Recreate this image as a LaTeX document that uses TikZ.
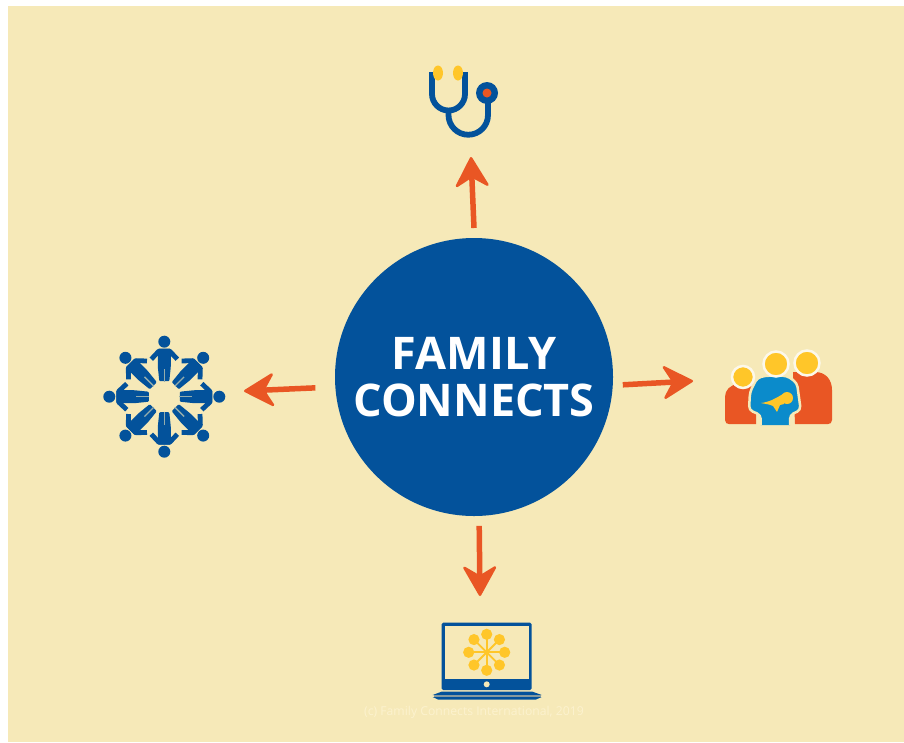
\documentclass[tikz,border=0pt]{standalone}
\usepackage{fontspec}
\setmainfont{Open Sans}
\usetikzlibrary{arrows.meta}
\pgfdeclarelayer{edgelayer}
\pgfdeclarelayer{nodelayer}
\pgfsetlayers{edgelayer,nodelayer,main}
\definecolor{cream}{HTML}{F6E9B8}
\definecolor{fcblue}{HTML}{03529B}
\definecolor{skyblue}{HTML}{0B8BCB}
\definecolor{fcorange}{HTML}{E95624}
\definecolor{fcyellow}{HTML}{FFC629}
\definecolor{faint}{HTML}{FCF2CE}
\tikzstyle{hubnode}=[circle, fill=fcblue, text=white, align=center, outer sep=10pt, minimum size=278pt, inner sep=0pt, font=\fontsize{45}{46.7}\selectfont\bfseries]
\tikzstyle{iconnode}=[rectangle, inner sep=0pt, outer sep=0pt]
\tikzstyle{arrow}=[draw=fcorange, line width=5.5pt, -{Stealth[length=33pt,width=37pt,inset=11pt,line width=2.5pt,round]}]
\tikzstyle{blueline}=[draw=fcblue, line width=5.8pt, fill=none]
\tikzstyle{head}=[fill=fcyellow, draw=white!70!cream, line width=2.5pt]
\begin{document}
\begin{tikzpicture}[x=1pt, y=-1pt]
            \useasboundingbox (0, 0) rectangle (904, 742);
            \begin{pgfonlayer}{edgelayer}
                \fill [cream] (8, 6) rectangle (904, 742);
            \end{pgfonlayer}
            \begin{pgfonlayer}{nodelayer}
                \node [style=hubnode] (hub) at (474, 377) {FAMILY\\CONNECTS};
                \node [style=iconnode, minimum width=90pt, minimum height=98pt] (steth) at (471, 108) {};
                \node [style=iconnode, minimum width=144pt, minimum height=130pt] (crowd) at (172, 391) {};
                \node [style=iconnode, minimum width=142pt, minimum height=100pt] (family) at (764, 381) {};
                \node [style=iconnode, minimum width=120pt, minimum height=109pt] (laptop) at (480, 650.5) {};
                \node [text=faint, font=\fontsize{12.2}{14}\selectfont] (credit) at (474, 712) {(c) Family Connects International, 2019};
            \end{pgfonlayer}
            \begin{pgfonlayer}{edgelayer}
                \draw [style=arrow] (hub.90) to (steth.south);
                \draw [style=arrow, shorten <=10pt] (hub.184) to (crowd.east);
                \draw [style=arrow] (hub.-3.5) to (family.west);
                \draw [style=arrow] (hub.-88) to (laptop.north);
            \end{pgfonlayer}

            % stethoscope
            \draw [style=blueline] (432, 72) -- (432, 94) arc (180:0:16.5) -- (465, 72);
            \draw [style=blueline] (448.5, 110) -- (448.5, 115) arc (180:0:19.75) -- (488, 98);
            \fill [fcblue] (487, 93) circle (11);
            \fill [fcorange] (487, 93) circle (4.5);
            \fill [fcyellow] (438, 73) ellipse (5 and 7.5);
            \fill [fcyellow] (458, 73) ellipse (5 and 7.5);

            % circle of people
            \foreach \ang in {0,45,...,315} {
                \begin{scope}[shift={(164.3, 396.7)}, rotate=\ang]
                    \fill [fcblue] (0, -55) circle (6);
                    \fill [fcblue, rounded corners=1pt] (-5, -15.5) -- (-6.5, -30) -- (-6.5, -48) -- (6.5, -48) -- (6.5, -30) -- (5, -15.5) -- cycle;
                    \draw [fcblue, line width=4.8pt, line join=round] (-13, -37.5) -- (-5.5, -45.5) -- (5.5, -45.5) -- (13, -37.5);
                    \draw [cream!60!fcblue, line width=1.3pt] (0, -15) -- (0, -28);
                \end{scope}
            }

            % family
            \fill [fcorange] (793, 372) -- (815, 372) .. controls (826, 372) and (832, 380) .. (832, 390) -- (832, 420) .. controls (832, 423) and (830, 424) .. (828, 424) -- (795, 424) -- cycle;
            \fill [fcorange] (756, 384) -- (738, 384) .. controls (730, 385) and (725, 390) .. (725, 397) -- (725, 420) .. controls (725, 423) and (727, 424) .. (729, 424) -- (756, 424) -- cycle;
            \filldraw [fill=skyblue, draw=cream, line width=2.5pt, rounded corners=4pt] (760.7, 425.2) -- (760.7, 415) -- (749, 410) -- (750, 392) -- (757, 378) -- (765, 375.7) -- (787, 375.7) -- (797, 383) -- (800.7, 410) -- (790, 415) -- (790, 425.2);
            \filldraw [style=head] (807, 363) circle (12.5);
            \filldraw [style=head] (776, 364) circle (12.5);
            \filldraw [style=head] (743, 377) circle (11);
            \fill [fcyellow] (787, 398) circle (6);
            \fill [fcyellow] (761, 403) .. controls (770, 402) and (776, 398) .. (783, 394) -- (784, 404) -- (780, 405) -- (777, 412) -- (773, 406) .. controls (769, 404) and (765, 404) .. (761, 403) -- cycle;

            % laptop
            \fill [fcblue, rounded corners=1.5pt] (441.7, 622.7) rectangle (531.7, 690);
            \fill [cream] (444.7, 625.7) rectangle (529, 679.3);
            \fill [cream] (486.7, 684.3) circle (3);
            \fill [fcblue] (442, 691.5) -- (532, 691.5) -- (541.7, 695) -- (432.7, 695) -- cycle;
            \fill [cream!55!fcblue!70!gray] (434, 695) rectangle (540.5, 697);
            \fill [fcblue] (432.7, 697) -- (541.7, 697) -- (536, 699.5) -- (438, 699.5) -- cycle;
            \foreach \ang in {0,45,...,315} {
                \draw [fcyellow, line width=1.8pt] (486.7, 652.3) -- ++(\ang:18);
                \fill [fcyellow] (486.7, 652.3) ++(\ang:18) circle (5.6);
            }
        \end{tikzpicture}
\end{document}
